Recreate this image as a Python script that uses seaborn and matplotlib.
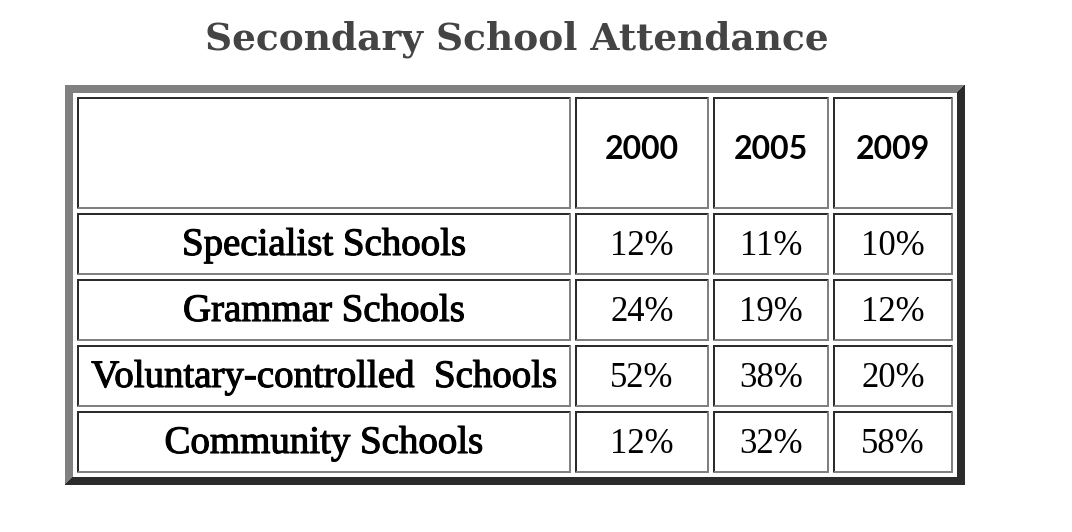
import matplotlib
matplotlib.use("Agg")
import matplotlib.pyplot as plt
from matplotlib.patches import Polygon
import matplotlib.patheffects as pe
import seaborn as sns

# ---- data ----
title = "Secondary School Attendance"
categories = ["Specialist Schools", "Grammar Schools",
              "Voluntary-controlled  Schools", "Community Schools"]
years = ["2000", "2005", "2009"]
values_2000 = [12, 24, 52, 12]
values_2005 = [11, 19, 38, 32]
values_2009 = [10, 12, 20, 58]
series = [values_2000, values_2005, values_2009]

# ---- layout (pixels) ----
W, H = 1072, 532
col_edges = [(77, 571), (575, 709), (713, 829), (833, 953)]
row_edges = [(97, 209), (213, 275), (279, 341), (345, 407), (411, 473)]
outer = (65, 85, 965, 485)
DARK = "#2b2b2b"
GREY = "#808080"

sns.set_theme(style="white")
plt.rcParams["font.family"] = ["Liberation Serif", "DejaVu Serif"]

fig = plt.figure(figsize=(W / 100, H / 100), dpi=100)
ax = fig.add_axes([0, 0, 1, 1])
ax.set_xlim(0, W)
ax.set_ylim(H, 0)
ax.axis("off")
fig.patch.set_facecolor("white")


def bevel(x0, y0, x1, y1, t, tl, br):
    top = [(x0, y0), (x1, y0), (x1 - t, y0 + t), (x0 + t, y0 + t)]
    left = [(x0, y0), (x0 + t, y0 + t), (x0 + t, y1 - t), (x0, y1)]
    bottom = [(x0, y1), (x0 + t, y1 - t), (x1 - t, y1 - t), (x1, y1)]
    right = [(x1, y0), (x1, y1), (x1 - t, y1 - t), (x1 - t, y0 + t)]
    for pts, c in ((top, tl), (left, tl), (bottom, br), (right, br)):
        ax.add_patch(Polygon(pts, closed=True, facecolor=c, edgecolor="none",
                             antialiased=False))


# outer outset border
bevel(*outer, 8, GREY, DARK)

# cells (inset border)
for (y0, y1) in row_edges:
    for (x0, x1) in col_edges:
        bevel(x0, y0, x1, y1, 2, DARK, GREY)

# title
ax.text(517, 50, title, ha="center", va="baseline",
        fontsize=27, fontweight="bold", color="#444444", family="DejaVu Serif")

# header
for j, yr in enumerate(years):
    x0, x1 = col_edges[j + 1]
    ax.text((x0 + x1) / 2, 159, yr, ha="center", va="baseline",
            fontsize=23, fontweight="bold", family="Lato", color="black")

semi = [pe.withStroke(linewidth=0.8, foreground="black")]

# body
for i, cat in enumerate(categories):
    y0, y1 = row_edges[i + 1]
    base = (y0 + y1) / 2 + 11
    x0, x1 = col_edges[0]
    ax.text((x0 + x1) / 2, base, cat, ha="center", va="baseline",
            fontsize=28, color="black", path_effects=semi)
    for j, s in enumerate(series):
        cx0, cx1 = col_edges[j + 1]
        ax.text((cx0 + cx1) / 2, base, f"{s[i]}%", ha="center", va="baseline",
                fontsize=25, color="black")

fig.savefig("out.png", dpi=100, facecolor="white")
